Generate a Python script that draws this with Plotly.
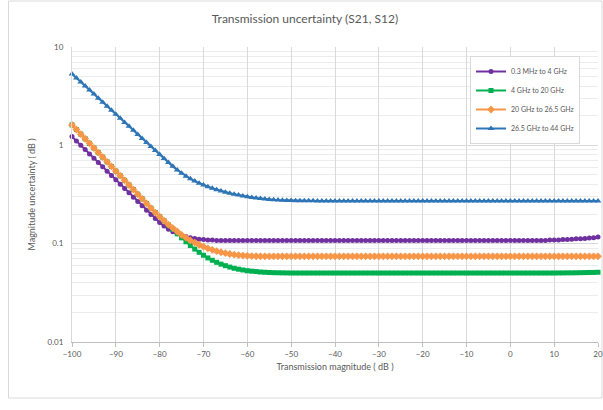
import plotly.graph_objects as go

x_db = list(range(-100, 21))

s_purple = [
    1.227, 1.109, 1.002, 0.906, 0.818, 0.740, 0.668, 0.604, 0.546, 0.493, 0.446,
    0.403, 0.364, 0.329, 0.297, 0.269, 0.243, 0.219, 0.198, 0.180, 0.164,
    0.151, 0.140, 0.132, 0.126, 0.121, 0.118, 0.115, 0.113, 0.111, 0.110,
    0.109, 0.109, 0.108, 0.108, 0.108, 0.108, 0.108, 0.108, 0.108, 0.108,
    0.108, 0.108, 0.108, 0.108, 0.108, 0.108, 0.108, 0.108, 0.108, 0.108,
    0.108, 0.108, 0.108, 0.108, 0.108, 0.108, 0.108, 0.108, 0.108, 0.108,
    0.108, 0.108, 0.108, 0.108, 0.108, 0.108, 0.108, 0.108, 0.108, 0.108,
    0.108, 0.108, 0.108, 0.108, 0.108, 0.108, 0.108, 0.108, 0.108, 0.108,
    0.108, 0.108, 0.108, 0.108, 0.108, 0.108, 0.108, 0.108, 0.108, 0.108,
    0.108, 0.108, 0.108, 0.108, 0.108, 0.108, 0.108, 0.108, 0.108, 0.108,
    0.108, 0.108, 0.108, 0.108, 0.108, 0.108, 0.108, 0.108, 0.109, 0.109,
    0.109, 0.110, 0.110, 0.111, 0.112, 0.112, 0.113, 0.114, 0.115, 0.117,
]

s_green = [
    1.614, 1.449, 1.300, 1.167, 1.047, 0.940, 0.843, 0.757, 0.679, 0.610, 0.547,
    0.491, 0.441, 0.395, 0.355, 0.318, 0.286, 0.256, 0.230, 0.207, 0.188,
    0.171, 0.155, 0.140, 0.126, 0.1146, 0.1045, 0.0957, 0.0881, 0.0817, 0.0762,
    0.0716, 0.0678, 0.0646, 0.0619, 0.0597, 0.0578, 0.0562, 0.0550, 0.0540, 0.0531,
    0.0525, 0.0520, 0.0515, 0.0512, 0.0509, 0.0507, 0.0506, 0.0505, 0.0504, 0.0503,
    0.0503, 0.0503, 0.0503, 0.0503, 0.0503, 0.0503, 0.0503, 0.0503, 0.0503, 0.0503,
    0.0503, 0.0503, 0.0503, 0.0503, 0.0503, 0.0503, 0.0503, 0.0503, 0.0503, 0.0503,
    0.0503, 0.0503, 0.0503, 0.0503, 0.0503, 0.0503, 0.0503, 0.0503, 0.0503, 0.0503,
    0.0503, 0.0503, 0.0503, 0.0503, 0.0503, 0.0503, 0.0503, 0.0503, 0.0503, 0.0503,
    0.0503, 0.0503, 0.0503, 0.0503, 0.0503, 0.0503, 0.0503, 0.0503, 0.0503, 0.0503,
    0.0503, 0.0503, 0.0503, 0.0503, 0.0503, 0.0503, 0.0503, 0.0503, 0.0503, 0.0503,
    0.0504, 0.0504, 0.0505, 0.0505, 0.0506, 0.0507, 0.0508, 0.0509, 0.0510, 0.0512,
]

s_orange = [
    1.614, 1.449, 1.300, 1.167, 1.047, 0.940, 0.843, 0.757, 0.679, 0.610, 0.547,
    0.491, 0.441, 0.395, 0.355, 0.318, 0.286, 0.256, 0.230, 0.207, 0.188,
    0.171, 0.156, 0.144, 0.133, 0.123, 0.115, 0.108, 0.1026, 0.0975, 0.0931,
    0.0895, 0.0865, 0.0839, 0.0818, 0.0800, 0.0785, 0.0773, 0.0764, 0.0757, 0.0752,
    0.0748, 0.0745, 0.0743, 0.0743, 0.0743, 0.0743, 0.0743, 0.0743, 0.0743, 0.0743,
    0.0743, 0.0743, 0.0743, 0.0743, 0.0743, 0.0743, 0.0743, 0.0743, 0.0743, 0.0743,
    0.0743, 0.0743, 0.0743, 0.0743, 0.0743, 0.0743, 0.0743, 0.0743, 0.0743, 0.0743,
    0.0743, 0.0743, 0.0743, 0.0743, 0.0743, 0.0743, 0.0743, 0.0743, 0.0743, 0.0743,
    0.0743, 0.0743, 0.0743, 0.0743, 0.0743, 0.0743, 0.0743, 0.0743, 0.0743, 0.0743,
    0.0743, 0.0743, 0.0743, 0.0743, 0.0743, 0.0743, 0.0743, 0.0743, 0.0743, 0.0743,
    0.0743, 0.0743, 0.0743, 0.0743, 0.0743, 0.0743, 0.0743, 0.0743, 0.0743, 0.0743,
    0.0743, 0.0743, 0.0743, 0.0743, 0.0743, 0.0743, 0.0743, 0.0743, 0.0743, 0.0743,
]

s_blue = [
    5.32, 4.84, 4.41, 4.01, 3.65, 3.32, 3.02, 2.75, 2.50, 2.28, 2.07,
    1.88, 1.71, 1.56, 1.42, 1.29, 1.175, 1.069, 0.973, 0.885, 0.805,
    0.733, 0.668, 0.611, 0.562, 0.521, 0.486, 0.457, 0.433, 0.412, 0.394,
    0.379, 0.366, 0.354, 0.344, 0.334, 0.326, 0.318, 0.312, 0.305, 0.300,
    0.295, 0.291, 0.288, 0.284, 0.282, 0.280, 0.278, 0.277, 0.275, 0.274,
    0.273, 0.273, 0.273, 0.273, 0.273, 0.272, 0.272, 0.272, 0.272, 0.272,
    0.272, 0.272, 0.272, 0.272, 0.272, 0.272, 0.272, 0.272, 0.272, 0.272,
    0.272, 0.272, 0.272, 0.272, 0.272, 0.272, 0.272, 0.272, 0.272, 0.272,
    0.272, 0.272, 0.272, 0.272, 0.272, 0.272, 0.272, 0.272, 0.272, 0.272,
    0.272, 0.272, 0.272, 0.272, 0.272, 0.272, 0.272, 0.272, 0.272, 0.272,
    0.272, 0.272, 0.272, 0.272, 0.272, 0.272, 0.272, 0.272, 0.272, 0.272,
    0.272, 0.272, 0.272, 0.272, 0.272, 0.272, 0.272, 0.272, 0.272, 0.272,
]

series_names = ["0.3 MHz to 4 GHz", "4 GHz to 20 GHz", "20 GHz to 26.5 GHz", "26.5 GHz to 44 GHz"]
x_ticks = [-100, -90, -80, -70, -60, -50, -40, -30, -20, -10, 0, 10, 20]
y_ticks = [0.01, 0.1, 1, 10]
y_tick_text = ["0.01", "0.1", "1", "10"]
y_minor = [0.02, 0.03, 0.04, 0.05, 0.06, 0.07, 0.08, 0.09,
           0.2, 0.3, 0.4, 0.5, 0.6, 0.7, 0.8, 0.9,
           2, 3, 4, 5, 6, 7, 8, 9]

FONT = "Lato, 'Open Sans', sans-serif"
GREY = "#595959"

# figure geometry in page pixels (body margin removed by post_script)
W, H = 603, 410
PL, PR, PT, PB = 72, 598, 47, 342

styles = [
    dict(color="#7030a0", symbol="circle", size=5),
    dict(color="#00b050", symbol="square", size=5),
    dict(color="#f79646", symbol="diamond", size=6),
    dict(color="#2e75b6", symbol="triangle-up", size=6),
]

fig = go.Figure()
for name, ys, st in zip(series_names, [s_purple, s_green, s_orange, s_blue], styles):
    fig.add_trace(go.Scatter(
        x=x_db, y=ys, name=name, mode="lines+markers",
        line=dict(color=st["color"], width=2),
        marker=dict(color=st["color"], symbol=st["symbol"], size=st["size"]),
        cliponaxis=False,
    ))

pw, ph = PR - PL, PB - PT
fig.update_layout(
    width=W, height=H,
    margin=dict(l=PL, r=W - PR, t=PT, b=H - PB, autoexpand=False),
    paper_bgcolor="white", plot_bgcolor="white",
    font=dict(family=FONT, color=GREY, size=8),
    title=dict(text="Transmission uncertainty (S21, S12)", x=305 / W, xref="container",
               y=1 - 19 / H, yref="container", xanchor="center", yanchor="middle",
               font=dict(family=FONT, size=12, color=GREY)),
    legend=dict(x=(470 - PL) / pw, y=(PB - 56) / ph, xanchor="left", yanchor="top",
                bgcolor="white", bordercolor="#d9d9d9", borderwidth=1,
                font=dict(size=7, color=GREY), itemwidth=30,
                tracegroupgap=0),
    showlegend=True,
)

fig.update_xaxes(
    range=[-100, 20], tickvals=x_ticks, automargin=False, ticklabeloverflow="allow",
    showgrid=True, gridcolor="#d9d9d9", gridwidth=1,
    showline=True, linecolor="#bfbfbf", linewidth=1,
    ticks="outside", ticklen=4, tickcolor="#bfbfbf",
    zeroline=False, tickfont=dict(size=8, color=GREY),
    title=dict(text="Transmission magnitude ( dB )", font=dict(size=9, color=GREY), standoff=6),
)
fig.update_yaxes(
    type="log", range=[-2, 1], tickvals=y_ticks, ticktext=y_tick_text, automargin=False,
    showgrid=True, gridcolor="#d9d9d9", gridwidth=1,
    minor=dict(tickvals=y_minor, showgrid=True, gridcolor="#ececec", ticks=""),
    showline=True, linecolor="#d9d9d9", linewidth=1,
    ticks="", ticklabelstandoff=6, zeroline=False, tickfont=dict(size=8, color=GREY),
    title=dict(text="Magnitude uncertainty ( dB )", font=dict(size=9, color=GREY), standoff=10),
)

# outer chart-area border
fig.add_shape(type="rect", xref="paper", yref="paper",
              x0=(8.5 - PL) / pw, x1=(602 - PL) / pw,
              y0=(PB - 398) / ph, y1=(PB - 1) / ph,
              line=dict(color="#d9d9d9", width=1), fillcolor="rgba(0,0,0,0)", layer="below")

fig.write_html(
    "out.html",
    config={"displayModeBar": False},
    post_script="document.body.style.margin='0';document.body.style.overflow='hidden';",
)
